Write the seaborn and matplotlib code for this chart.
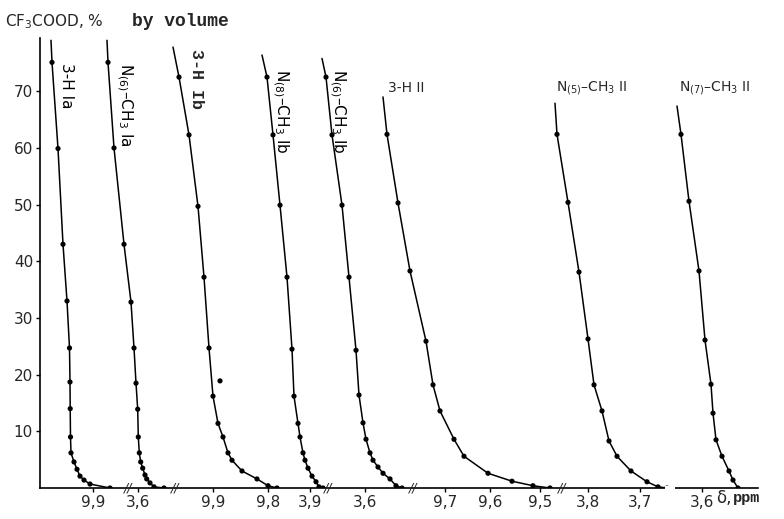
import pandas as pd
import matplotlib
matplotlib.use("Agg")
import matplotlib.pyplot as plt
import seaborn as sns

# CF3COOD content (% by volume) vs. position along the broken delta axis.
# The first point of every curve is only the end of the drawn line (no dot).
h3_Ia_x = [51, 52, 58, 63, 67, 69.5, 70, 70.2, 70.5, 71, 74, 77, 80, 84, 90, 110]
h3_Ia_y = [79, 75.1, 59.9, 43.0, 33.0, 24.7, 18.7, 14.0, 9.0, 6.2, 4.6, 3.3, 2.1, 1.4, 0.7, 0.0]

n6_Ia_x = [107, 108, 114, 124, 131, 134, 136, 137.7, 138.3, 139.3, 140.7, 142.7, 145, 146.7, 150, 154, 164]
n6_Ia_y = [79, 75.1, 60.0, 43.0, 32.8, 24.7, 18.5, 13.9, 9.0, 6.2, 4.6, 3.5, 2.3, 1.6, 0.9, 0.2, 0.0]

h3_Ib_x = [173, 179, 189, 198, 204, 209, 213, 218, 223, 228, 232, 242, 257, 268, 277]
h3_Ib_y = [77.8, 72.5, 62.3, 49.7, 37.2, 24.7, 16.2, 11.4, 9.0, 6.2, 4.9, 3.0, 1.6, 0.4, 0.0]
h3_Ib_stray_x = [220]
h3_Ib_stray_y = [18.9]

n8_Ib_x = [262, 267, 273, 280, 287, 292, 294, 298, 300, 303, 305, 308, 312, 316, 319, 323]
n8_Ib_y = [76.4, 72.5, 62.3, 49.9, 37.2, 24.5, 16.2, 11.4, 9.0, 6.2, 4.9, 3.5, 2.1, 1.1, 0.2, 0.0]

n6_Ib_x = [322, 326, 332, 342, 349, 356, 359, 363, 366, 370, 373, 378, 383, 390, 396, 402]
n6_Ib_y = [75.8, 72.5, 62.3, 49.9, 37.2, 24.3, 16.4, 11.5, 8.6, 6.2, 4.9, 3.7, 2.6, 1.6, 0.4, 0.0]

h3_II_x = [383, 387, 398, 410, 426, 433, 440, 454, 464, 488, 512, 533, 550]
h3_II_y = [69.0, 62.4, 50.3, 38.3, 25.9, 18.2, 13.6, 8.6, 5.6, 2.6, 1.2, 0.4, 0.0]

n5_II_x = [555, 557, 568, 579, 588, 594, 602, 609, 617, 631, 647, 658, 667]
n5_II_y = [67.9, 62.4, 50.4, 38.1, 26.3, 18.2, 13.6, 8.3, 5.6, 3.0, 1.1, 0.2, 0.0]

n7_II_x = [677, 681, 689, 699, 705, 711, 713, 716, 722, 729, 733, 738]
n7_II_y = [67.4, 62.4, 50.6, 38.3, 26.1, 18.3, 13.2, 8.5, 5.6, 3.0, 1.4, 0.0]

# ticks along the broken axis and their ppm labels
tick_pos = [93, 138, 213, 268, 310, 365, 445, 490, 540, 588, 640, 702]
tick_labels = ["9,9", "3,6", "9,9", "9,8", "3,9", "3,6", "9,7", "9,6", "9,5", "3,8", "3,7", "3,6"]
break_pos = [128, 175, 328, 413, 562]
y_ticks = [10, 20, 30, 40, 50, 60, 70]

curves = [
    ("3-H Ia", h3_Ia_x, h3_Ia_y),
    ("N6-CH3 Ia", n6_Ia_x, n6_Ia_y),
    ("3-H Ib", h3_Ib_x, h3_Ib_y),
    ("N8-CH3 Ib", n8_Ib_x, n8_Ib_y),
    ("N6-CH3 Ib", n6_Ib_x, n6_Ib_y),
    ("3-H II", h3_II_x, h3_II_y),
    ("N5-CH3 II", n5_II_x, n5_II_y),
    ("N7-CH3 II", n7_II_x, n7_II_y),
]

sns.set_style("ticks")
plt.rcParams['font.family'] = ['DejaVu Sans']

fig = plt.figure(figsize=(7.84, 5.19), dpi=100)
ax = fig.add_axes([40 / 784, 31 / 519, 718 / 784, 450 / 519])

for name, xs, ys in curves:
    df = pd.DataFrame({"pos": xs, "vol": ys})
    sns.lineplot(data=df, x="pos", y="vol", sort=False, color="black",
                 linewidth=1.1, ax=ax, estimator=None)
    sns.scatterplot(data=df.iloc[1:], x="pos", y="vol", color="black",
                    s=14, edgecolor="none", ax=ax, zorder=3)

sns.scatterplot(x=h3_Ib_stray_x, y=h3_Ib_stray_y, color="black", s=14,
                edgecolor="none", ax=ax, zorder=3)

ax.set_xlim(40, 758)
ax.set_ylim(0, 79.4)
ax.set_yticks(y_ticks)
ax.set_yticklabels([str(v) for v in y_ticks], fontsize=11)
ax.set_xticks(tick_pos)
ax.set_xticklabels(tick_labels, fontsize=11)
ax.tick_params(axis="both", length=3, width=1, color="black")
ax.tick_params(axis="y", pad=2)
ax.tick_params(axis="x", pad=2)
ax.set_xlabel("")
ax.set_ylabel("")
sns.despine(ax=ax)
for sp in ("left", "bottom"):
    ax.spines[sp].set_linewidth(1.2)
    ax.spines[sp].set_color("black")

# axis breaks
for bp in break_pos:
    ax.text(bp, 0, "//", ha="center", va="center", fontsize=9,
            fontstyle="italic", clip_on=False)
ax.plot([665, 675], [0, 0], color="white", linewidth=3, clip_on=False,
        solid_capstyle="butt", zorder=4)

# curve labels
lab_kw = dict(fontsize=11, color="black", rotation=-90, ha="center", va="top")
ax.text(66, 75, "3-H Ia", **lab_kw)
ax.text(125, 75, "N$_{(6)}$–CH$_3$ Ia", **lab_kw)
ax.text(197, 77.5, "3-H Ib", rotation=-90, ha="center", va="top",
        family="Liberation Mono", fontweight="bold", fontsize=12)
ax.text(281, 74, "N$_{(8)}$–CH$_3$ Ib", **lab_kw)
ax.text(338, 74, "N$_{(6)}$–CH$_3$ Ib", **lab_kw)
ax.text(388, 70.5, "3-H II", ha="left", va="center", fontsize=10)
ax.text(556, 70.5, "N$_{(5)}$–CH$_3$ II", ha="left", va="center", fontsize=10)
ax.text(679, 70.5, "N$_{(7)}$–CH$_3$ II", ha="left", va="center", fontsize=10)

# axis titles
fig.text(5 / 784, 1 - 22 / 519, "CF$_3$COOD, %", ha="left", va="center", fontsize=11)
fig.text(132 / 784, 1 - 22 / 519, "by volume", ha="left", va="center", fontsize=13,
         family="Liberation Mono", fontweight="bold")
ax.text(716, -1.7, "δ,", ha="left", va="center", fontsize=12, clip_on=False)
ax.text(733, -1.7, "ppm", ha="left", va="center", fontsize=11, clip_on=False,
        family="Liberation Mono", fontweight="bold")

fig.savefig("out.png", dpi=100)
